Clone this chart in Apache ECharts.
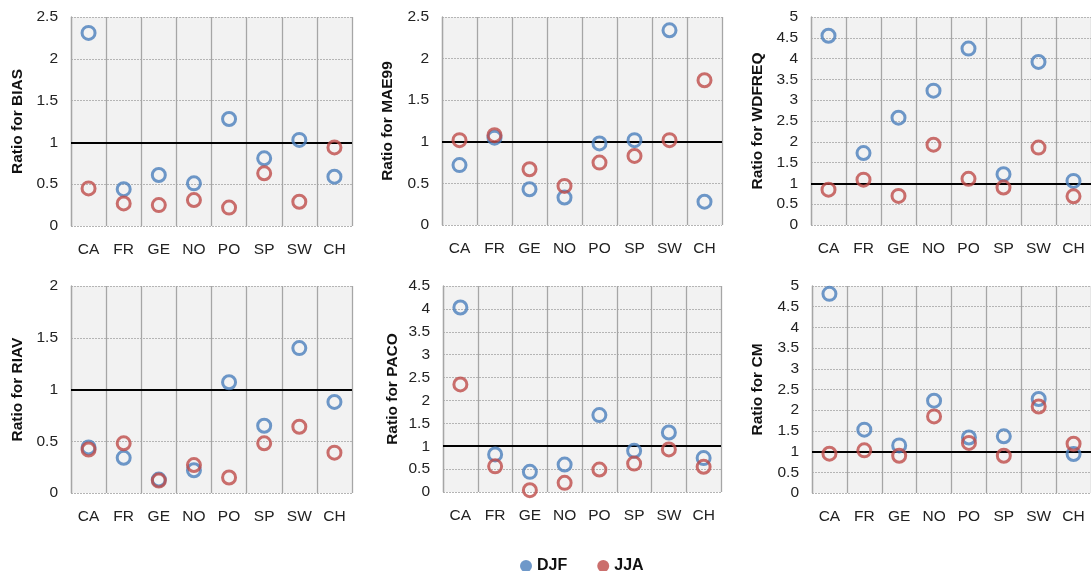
<!DOCTYPE html>
<html>
<head>
<meta charset="utf-8">
<script src="https://cdn.jsdelivr.net/npm/echarts@6/dist/echarts.min.js"></script>
<style>html,body{margin:0;padding:0;background:#fff}#c{width:1091px;height:571px}</style>
</head>
<body>
<div id="c"></div>
<script>
const categories = ['CA','FR','GE','NO','PO','SP','SW','CH'];
const seasons = ['DJF','JJA'];

const biasDJF = [2.31,0.44,0.61,0.51,1.28,0.81,1.03,0.59];
const biasJJA = [0.45,0.27,0.25,0.31,0.22,0.63,0.29,0.94];
const mae99DJF = [0.72,1.05,0.43,0.33,0.98,1.02,2.34,0.28];
const mae99JJA = [1.02,1.08,0.67,0.47,0.75,0.83,1.02,1.74];
const wdfreqDJF = [4.55,1.73,2.58,3.23,4.24,1.22,3.92,1.06];
const wdfreqJJA = [0.85,1.09,0.70,1.93,1.11,0.90,1.86,0.69];
const riavDJF = [0.44,0.34,0.13,0.22,1.07,0.65,1.40,0.88];
const riavJJA = [0.42,0.48,0.12,0.27,0.15,0.48,0.64,0.39];
const pacoDJF = [4.03,0.82,0.44,0.60,1.68,0.90,1.30,0.74];
const pacoJJA = [2.35,0.56,0.04,0.20,0.49,0.62,0.93,0.55];
const cmDJF = [4.81,1.53,1.15,2.23,1.34,1.37,2.27,0.94];
const cmJJA = [0.95,1.03,0.90,1.85,1.21,0.90,2.09,1.19];

const panelNames = ['BIAS','MAE99','WDFREQ','RIAV','PACO','CM'];
const panelMax = [2.5,2.5,5,2,4.5,5];
const panelDJF = [biasDJF,mae99DJF,wdfreqDJF,riavDJF,pacoDJF,cmDJF];
const panelJJA = [biasJJA,mae99JJA,wdfreqJJA,riavJJA,pacoJJA,cmJJA];
const referenceValue = 1;

const gridBoxes = [
  {left:71, top:17, width:281, height:209},
  {left:442, top:17, width:280, height:208},
  {left:811, top:17, width:281, height:208},
  {left:71, top:286, width:281, height:207},
  {left:443, top:286, width:278, height:206},
  {left:812, top:286, width:280, height:207}
];
const nameGaps = [45,46,45,45,42,46];

const BLUE = '#4a7ebb';
const RED = '#be4b48';
const FONT = '"Liberation Sans", Arial, sans-serif';

const grid = [], xAxis = [], yAxis = [], series = [];
panelNames.forEach((nm, i) => {
  grid.push(Object.assign({show:true, backgroundColor:'#f2f2f2', borderWidth:0}, gridBoxes[i]));
  xAxis.push({
    type:'category', gridIndex:i, data:categories, boundaryGap:true,
    axisLine:{show:false}, axisTick:{show:false},
    axisLabel:{fontFamily:FONT, fontSize:15.5, color:'#222', margin:16, interval:0},
    splitLine:{show:true, interval:0, lineStyle:{color:'#a6a6a6', width:1.3, type:'solid'}}
  });
  yAxis.push({
    type:'value', gridIndex:i, min:0, max:panelMax[i], interval:0.5,
    name:'Ratio for ' + nm, nameLocation:'middle', nameGap:nameGaps[i], nameRotate:90,
    nameTextStyle:{fontFamily:FONT, fontSize:15.5, fontWeight:'bold', color:'#111'},
    axisLine:{show:true, lineStyle:{color:'#a6a6a6', width:1.3}}, axisTick:{show:false},
    axisLabel:{fontFamily:FONT, fontSize:15.5, color:'#222', margin:13},
    splitLine:{show:true, lineStyle:{color:'#b5b5b5', width:1, type:[2,1]}}
  });
  series.push({
    name:seasons[0], type:'scatter', xAxisIndex:i, yAxisIndex:i, data:panelDJF[i],
    symbol:'circle', symbolSize:13,
    itemStyle:{color:'rgba(0,0,0,0)', borderColor:BLUE, borderWidth:3},
    z:3,
    markLine:{silent:true, symbol:'none', label:{show:false},
      lineStyle:{color:'#000', width:2, type:'solid'},
      data:[{yAxis:referenceValue}], z:2}
  });
  series.push({
    name:seasons[1], type:'scatter', xAxisIndex:i, yAxisIndex:i, data:panelJJA[i],
    symbol:'circle', symbolSize:13,
    itemStyle:{color:'rgba(0,0,0,0)', borderColor:RED, borderWidth:3},
    z:4
  });
});

const chart = echarts.init(document.getElementById('c'), null, {renderer:'canvas'});
chart.setOption({
  animation:false,
  grid, xAxis, yAxis, series,
  legend:{
    left:515, top:553, icon:'circle', itemWidth:12, itemHeight:12, itemGap:30,
    textStyle:{fontFamily:FONT, fontSize:16, fontWeight:'bold', color:'#111'},
    data:[
      {name:seasons[0], itemStyle:{color:BLUE, borderWidth:0}},
      {name:seasons[1], itemStyle:{color:RED, borderWidth:0}}
    ]
  }
});
</script>
</body>
</html>
